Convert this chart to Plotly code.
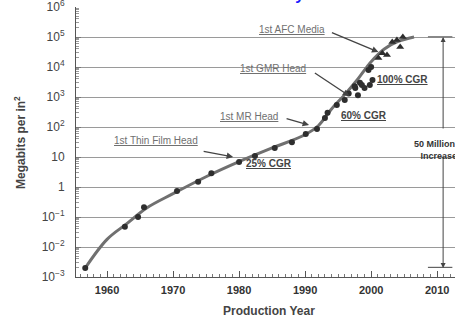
import plotly.graph_objects as go
import math

# ---- data ----
curve_years = [1956.7, 1960, 1963, 1966, 1970, 1975, 1980, 1985, 1990, 1992, 1994, 1996, 1998, 2000, 2002, 2004, 2006.5]
curve_vals = [0.002, 0.018, 0.06, 0.2, 0.6, 2.2, 7, 20, 55, 110, 400, 1200, 4000, 15000, 40000, 70000, 100000]

dot_years = [1956.7, 1962.7, 1964.7, 1965.6, 1970.6, 1973.8, 1975.8, 1980.0, 1982.4, 1985.4,
             1988.0, 1990.1, 1991.8, 1993.0, 1993.4, 1994.8, 1996.0, 1996.6, 1997.5, 1997.6,
             1998.0, 1998.3, 1998.6, 1999.0, 1999.6, 1999.8, 2000.0, 2000.2]
dot_vals = [0.002, 0.047, 0.1, 0.21, 0.74, 1.5, 2.9, 6.8, 10.8, 20,
            31, 58, 85, 200, 300, 540, 800, 1300, 2300, 2000,
            1150, 3000, 2500, 2000, 8000, 2500, 10000, 3700]

tri_years = [2001.1, 2001.7, 2002.4, 2003.2, 2003.9, 2004.4, 2004.8]
tri_vals = [20000, 29000, 25000, 68000, 79000, 46000, 100000]

y_tickvals = [1e-3, 1e-2, 1e-1, 1, 10, 1e2, 1e3, 1e4, 1e5, 1e6]
y_ticktext = ["10<sup>\u22123</sup>", "10<sup>\u22122</sup>", "10<sup>\u22121</sup>", "1", "10",
              "10<sup>2</sup>", "10<sup>3</sup>", "10<sup>4</sup>", "10<sup>5</sup>", "10<sup>6</sup>"]
x_tickvals = [1960, 1970, 1980, 1990, 2000, 2010]

# milestones: (label, tip year, tip value, tail dx, tail dy, label dx, label dy)  offsets in px
milestones = [
    ("1st AFC Media", 2001.1, 31600, -48, -20, -51, 23),
    ("1st GMR Head", 1996.7, 1080, -36, -24, -41, 28),
    ("1st MR Head", 1990.6, 116, -24, -7, -29, 9),
    ("1st Thin Film Head", 1979.1, 10, -31, -6, -33, 17),
]
cgr_labels = [("100% CGR", 2004.7, 10 ** 3.57), ("60% CGR", 1998.9, 10 ** 2.37), ("25% CGR", 1984.6, 10 ** 0.8)]

FONT = "Arial, Liberation Sans, Helvetica, sans-serif"

fig = go.Figure()
fig.add_trace(go.Scatter(x=curve_years, y=curve_vals, mode="lines",
                         line=dict(color="#707070", width=3, shape="spline", smoothing=1.0),
                         hoverinfo="skip", showlegend=False))
fig.add_trace(go.Scatter(x=dot_years, y=dot_vals, mode="markers",
                         marker=dict(symbol="circle", size=6, color="#2e2e2e"),
                         showlegend=False))
fig.add_trace(go.Scatter(x=tri_years, y=tri_vals, mode="markers",
                         marker=dict(symbol="triangle-up", size=7, color="#2e2e2e"),
                         showlegend=False))

minor_y = [m * 10 ** e for e in range(-3, 6) for m in range(2, 10)]

fig.update_layout(
    width=455, height=322,
    margin=dict(l=76, r=0, t=7, b=45),
    plot_bgcolor="white", paper_bgcolor="white",
    font=dict(family=FONT, color="#333333"),
    xaxis=dict(range=[1955.3, 2012.7], tickvals=x_tickvals, ticks="inside", ticklen=6,
               tickcolor="#555", showline=True, linecolor="#555", linewidth=1,
               showgrid=False, zeroline=False, automargin=False, ticklabelstandoff=3,
               ticklabeloverflow="allow",
               tickfont=dict(size=11, family=FONT, color="#333", weight="bold"),
               minor=dict(dtick=1, ticks="inside", ticklen=3, tickcolor="#777", showgrid=False)),
    yaxis=dict(type="log", range=[-3, 6], tickvals=y_tickvals, ticktext=y_ticktext,
               ticks="inside", ticklen=5, tickcolor="#777", showline=True, linecolor="#555",
               linewidth=1, showgrid=True, gridcolor="#9a9a9a", gridwidth=1, zeroline=False,
               ticklabelstandoff=8, automargin=False, ticklabeloverflow="allow",
               tickfont=dict(size=12, family=FONT, color="#444"),
               minor=dict(tickvals=minor_y, ticks="inside", ticklen=3, tickcolor="#999", showgrid=False)),
)

ann = []
for label, tx, tv, dx, dy, lx, ly in milestones:
    ann.append(dict(x=tx, y=math.log10(tv), ax=dx, ay=dy, xref="x", yref="y",
                    text="", showarrow=True, arrowhead=2, arrowsize=1, arrowwidth=1.3,
                    arrowcolor="#444"))
    ann.append(dict(x=tx, y=math.log10(tv), xref="x", yref="y", xshift=lx, yshift=ly,
                    text="<u>" + label + "</u>", showarrow=False, xanchor="right", yanchor="middle",
                    font=dict(size=10, color="#707070", family=FONT)))
for label, lx, lv in cgr_labels:
    ann.append(dict(x=lx, y=math.log10(lv), xref="x", yref="y", text="<u>" + label + "</u>",
                    showarrow=False, xanchor="center", yanchor="middle",
                    font=dict(size=10, color="#444", family=FONT, weight="bold")))

# 50 million x increase marker
ann.append(dict(x=2010.9, y=5, xref="x", yref="y", ax=0, ay=93, text="", showarrow=True,
                arrowhead=2, arrowsize=1, arrowwidth=1, arrowcolor="#444"))
ann.append(dict(x=2010.9, y=math.log10(0.002), xref="x", yref="y", ax=0, ay=-113, text="",
                showarrow=True, arrowhead=2, arrowsize=1, arrowwidth=1, arrowcolor="#444"))
ann.append(dict(x=2006.2, y=1.22, xref="x", yref="y", text="50 Million X<br>Increase", showarrow=False,
                xanchor="left", yanchor="middle", align="center",
                font=dict(size=9, color="#333", family=FONT, weight="bold")))

# titles
ann.append(dict(x=0.467, y=1, xref="paper", yref="paper", yanchor="bottom", yshift=1.5,
                text="Areal Density", showarrow=False,
                font=dict(size=16, color="#1a1aff", family=FONT, weight="bold")))
ann.append(dict(x=0.51, y=0, xref="paper", yref="paper", yanchor="top", yshift=-25,
                text="Production Year", showarrow=False,
                font=dict(size=12, color="#444", family=FONT, weight="bold")))
ann.append(dict(x=-0.148, y=0.5, xref="paper", yref="paper", xanchor="center", yanchor="middle",
                text="Megabits per in<sup>2</sup>", showarrow=False, textangle=-90,
                font=dict(size=12, color="#444", family=FONT, weight="bold")))
fig.update_layout(annotations=ann)

fig.add_shape(type="line", x0=2008.6, x1=2012.3, y0=1e5, y1=1e5, xref="x", yref="y",
              line=dict(color="#888", width=2))
fig.add_shape(type="line", x0=2008.6, x1=2012.3, y0=0.0021, y1=0.0021, xref="x", yref="y",
              line=dict(color="#444", width=1))

fig.write_html("out.html", config={"displayModeBar": False},
               post_script="document.body.style.margin='0';")
